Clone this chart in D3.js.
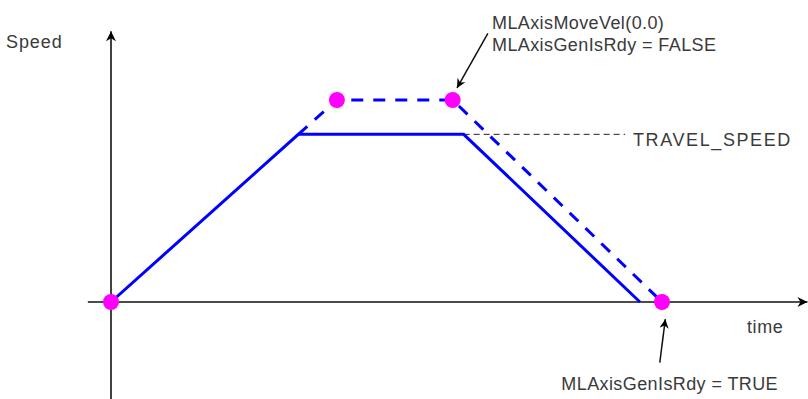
<!DOCTYPE html>
<html><head><meta charset="utf-8">
<script src="https://cdn.jsdelivr.net/npm/d3@7"></script>
<style>
html,body{margin:0;padding:0;background:#fff;}
text{font-family:"Liberation Sans",Arial,sans-serif;fill:#3a3a3a;}
</style></head>
<body>
<svg id="chart" width="808" height="399"></svg>
<script>
// Data (time units, speed units)
const solidTime  = [0, 34, 64, 96];
const solidSpeed = [0, 83, 83, 0];
const dashTime   = [34, 41, 62, 100];
const dashSpeed  = [83, 100, 100, 0];
const dotTime    = [0, 41, 62, 100];
const dotSpeed   = [0, 100, 100, 0];
const travelSpeed = 83;
const travelRefEnd = 93.3;
const axisLabels = ["Speed", "time"];
const annotTop = ["MLAxisMoveVel(0.0)", "MLAxisGenIsRdy = FALSE"];
const annotBottom = ["MLAxisGenIsRdy = TRUE"];
const travelLabel = "TRAVEL_SPEED";

const svg = d3.select("#chart");
const x = d3.scaleLinear().domain([0, 100]).range([111, 662]);
const y = d3.scaleLinear().domain([0, 100]).range([302, 100]);

// markers
const defs = svg.append("defs");
defs.append("marker").attr("id","axarrow").attr("viewBox","0 0 10 10")
  .attr("refX",10).attr("refY",5).attr("markerWidth",12).attr("markerHeight",10)
  .attr("markerUnits","userSpaceOnUse").attr("orient","auto")
  .append("path").attr("d","M0,0 L10,5 L0,10 L3,5 Z").attr("fill","#000");
defs.append("marker").attr("id","anarrow").attr("viewBox","0 0 10 10")
  .attr("refX",10).attr("refY",5).attr("markerWidth",11).attr("markerHeight",9)
  .attr("markerUnits","userSpaceOnUse").attr("orient","auto")
  .append("path").attr("d","M0,0 L10,5 L0,10 L3,5 Z").attr("fill","#000");

// axes
svg.append("line").attr("x1", x(0)).attr("x2", x(0))
  .attr("y1", y(-48)).attr("y2", y(134))
  .attr("stroke","#111").attr("stroke-width",1.6).attr("marker-end","url(#axarrow)");
svg.append("line").attr("x1", x(-4.2)).attr("x2", x(126.4))
  .attr("y1", y(0)).attr("y2", y(0))
  .attr("stroke","#111").attr("stroke-width",1.6).attr("marker-end","url(#axarrow)");

// travel speed reference
svg.append("line").attr("x1", x(64)).attr("x2", x(travelRefEnd))
  .attr("y1", y(travelSpeed)).attr("y2", y(travelSpeed))
  .attr("stroke","#222").attr("stroke-width",1).attr("stroke-dasharray","6,4");

const line = d3.line().x(d => x(d[0])).y(d => y(d[1]));
svg.append("path").attr("d", line(solidTime.map((t,i)=>[t, solidSpeed[i]])))
  .attr("fill","none").attr("stroke","#0000ff").attr("stroke-width",3);
svg.append("path").attr("d", line(dashTime.map((t,i)=>[t, dashSpeed[i]])))
  .attr("fill","none").attr("stroke","#0000ff").attr("stroke-width",3)
  .attr("stroke-dasharray","12,10");

svg.selectAll("circle.dot").data(dotTime.map((t,i)=>[t, dotSpeed[i]])).enter()
  .append("circle").attr("class","dot")
  .attr("cx", d => x(d[0])).attr("cy", d => y(d[1])).attr("r", 8)
  .attr("fill","#ff00ff");

// annotation arrows
svg.append("line").attr("x1", x(68.4)).attr("y1", y(133))
  .attr("x2", x(62.8)).attr("y2", y(106))
  .attr("stroke","#111").attr("stroke-width",1.5).attr("marker-end","url(#anarrow)");
svg.append("line").attr("x1", x(99.6)).attr("y1", y(-30))
  .attr("x2", x(100.6)).attr("y2", y(-8.5))
  .attr("stroke","#111").attr("stroke-width",1.5).attr("marker-end","url(#anarrow)");

// texts
const fs = "18px";
svg.append("text").attr("x", 6).attr("y", 48).attr("font-size", fs).attr("letter-spacing","0.9px").text(axisLabels[0]);
svg.append("text").attr("x", 747).attr("y", 333).attr("font-size", fs).attr("letter-spacing","0.6px").text(axisLabels[1]);
annotTop.forEach((s,i) => {
  svg.append("text").attr("x", 492).attr("y", 29 + i*22).attr("font-size", fs)
    .attr("letter-spacing","0.4px").text(s);
});
svg.append("text").attr("x", 778).attr("y", 390).attr("text-anchor","end")
  .attr("font-size", fs).attr("letter-spacing","0.4px").text(annotBottom[0]);
svg.append("text").attr("x", 633).attr("y", 146).attr("font-size", fs)
  .attr("letter-spacing","1.6px").text(travelLabel);
</script>
</body></html>
